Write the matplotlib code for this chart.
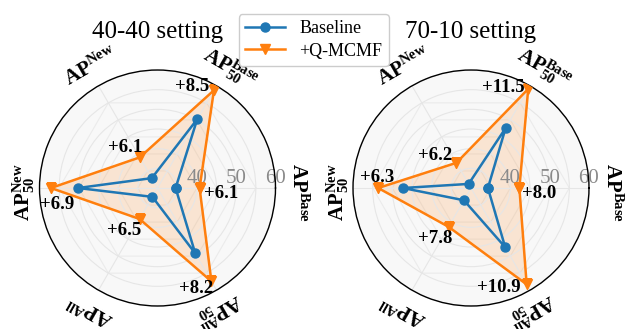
import numpy as np
import matplotlib
matplotlib.use("Agg")
import matplotlib.pyplot as plt

plt.rcParams['font.family'] = ['Liberation Serif', 'DejaVu Serif']
plt.rcParams['mathtext.fontset'] = 'custom'
plt.rcParams['mathtext.rm'] = 'Liberation Serif'
plt.rcParams['mathtext.bf'] = 'Liberation Serif:bold'
plt.rcParams['mathtext.it'] = 'Liberation Serif:italic'

# ---- data ----
axes_labels = [r"$\mathbf{AP}^{\mathbf{Base}}$",
               r"$\mathbf{AP}^{\mathbf{Base}}_{\mathbf{50}}$",
               r"$\mathbf{AP}^{\mathbf{New}}$",
               r"$\mathbf{AP}^{\mathbf{New}}_{\mathbf{50}}$",
               r"$\mathbf{AP}^{\mathbf{All}}$",
               r"$\mathbf{AP}^{\mathbf{All}}_{\mathbf{50}}$"]
titles = ["40-40 setting", "70-10 setting"]
baseline_4040 = [34.6, 50.2, 32.9, 50.2, 32.6, 49.2]
gain_4040 = [6.1, 8.5, 6.1, 6.9, 6.5, 8.2]
baseline_7010 = [34.3, 47.6, 31.2, 47.3, 33.6, 47.4]
gain_7010 = [8.0, 11.5, 6.2, 6.3, 7.8, 10.9]
r_ticks = [40, 50, 60]
r_tick_labels = ["40", "50", "60"]
series_names = ["Baseline", "+Q-MCMF"]

# ---- style ----
blue = "#1f77b4"
orange = "#ff7f0e"
offsets_4040 = [(22, -5), (-22, 4), (-15, 10), (6, -16), (-15, -11), (-15, -7)]
offsets_7010 = [(20, -5), (-25, 1), (-21, 7), (-1, 11), (-13, -12), (-28, -3)]
label_offsets = [(3, -4), (4, 1), (2, 2), (4, -4), (2, -1), (-8, -4)]

fig = plt.figure(figsize=(6.28, 3.29), dpi=100)
positions = [[0.0629, 0.0699, 0.3758, 0.7173], [0.5621, 0.0699, 0.3758, 0.7173]]

angles = np.deg2rad(np.arange(6) * 60.0)
closed = np.append(angles, angles[0])

datasets = [(baseline_4040, gain_4040, offsets_4040),
            (baseline_7010, gain_7010, offsets_7010)]

handles = None
for i, (base, gain, offs) in enumerate(datasets):
    ax = fig.add_axes(positions[i], projection='polar')
    ax.set_facecolor('#f8f8f8')
    base = np.array(base)
    ours = base + np.array(gain)
    ax.set_ylim(30, 60)
    ax.set_yticks(r_ticks)
    ax.set_yticks([35, 45, 55], minor=True)
    ax.set_rlabel_position(0)
    ax.set_yticklabels(r_tick_labels, fontsize=15, color='#8a8a8a',
                       ha='center', va='bottom')
    ax.set_xticks(angles)
    ax.set_xticklabels([])
    ax.grid(True, color='#e6e6e6', linewidth=0.8)
    ax.yaxis.grid(True, which='minor', color='#e6e6e6', linewidth=0.8)
    ax.spines['polar'].set_linewidth(1.0)
    # hexagonal grid
    for rr in [35, 40, 45, 50, 55]:
        ax.plot(closed, [rr] * 7, color='#ebebeb', linewidth=0.8, zorder=0.5)
    ours_c = np.append(ours, ours[0])
    base_c = np.append(base, base[0])
    ax.fill(closed, ours_c, color=orange, alpha=0.16, zorder=1)
    l1, = ax.plot(closed, base_c, color=blue, linewidth=1.8, marker='o',
                  markersize=6.5, label=series_names[0], zorder=3)
    l2, = ax.plot(closed, ours_c, color=orange, linewidth=1.8, marker='v',
                  markersize=6.5, label=series_names[1], zorder=4)
    handles = [l1, l2]
    for k in range(6):
        ax.annotate(f"+{gain[k]:.1f}", xy=(angles[k], ours[k]),
                    xytext=offs[k], textcoords='offset pixels',
                    ha='center', va='center', fontsize=13.5,
                    fontweight='bold', zorder=5)
        rot = np.rad2deg(angles[k]) - 90
        ax.annotate(axes_labels[k], xy=(angles[k], 65),
                    xytext=label_offsets[k], textcoords='offset pixels',
                    rotation=rot, rotation_mode='anchor',
                    ha='center', va='center', fontsize=15,
                    annotation_clip=False)
    fig.text(positions[i][0] + positions[i][2] / 2, 0.903, titles[i],
             ha='center', va='center', fontsize=18)

fig.legend(handles=handles, loc='upper center', bbox_to_anchor=(0.4995, 0.985),
           fontsize=13, frameon=True, framealpha=1.0, edgecolor='#cccccc',
           handlelength=2.2, borderpad=0.35, labelspacing=0.3)

fig.savefig("out.png", dpi=100)
